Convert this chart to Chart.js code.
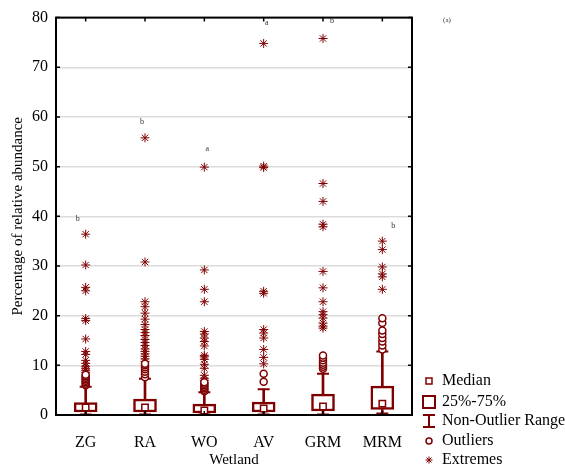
<!DOCTYPE html>
<html>
<head>
<meta charset="utf-8">
<script src="https://cdn.jsdelivr.net/npm/chart.js@4.4.1/dist/chart.umd.min.js"></script>
<style>
html, body { margin: 0; padding: 0; background: #fff; }
</style>
</head>
<body>
<canvas id="chart_box" width="565" height="473"></canvas>
<script>
// ---- data ----
var wetlands = ['ZG', 'RA', 'WO', 'AV', 'GRM', 'MRM'];
var q1 = [0.6, 0.6, 0.4, 0.6, 0.8, 1.1];
var q3 = [2.5, 3.2, 2.2, 2.6, 4.2, 5.8];
var medians = [1.5, 1.5, 0.9, 1.3, 1.7, 2.3];
var whiskerMin = [0.1, 0.1, 0.1, 0.1, 0.1, 0.3];
var whiskerMax = [5.7, 7.3, 4.6, 5.2, 8.3, 12.8];

var outliers = [
    [6.0, 6.3, 6.6, 6.9, 7.2, 7.5, 7.8, 8.1],
    [7.6, 8.2, 8.7, 9.2, 9.6, 10.0, 10.3],
    [4.8, 5.1, 5.4, 5.7, 6.0, 6.3, 6.6],
    [6.7, 8.3],
    [9.3, 9.7, 10.1, 10.5, 11.0, 11.5, 12.0],
    [13.2, 14.0, 14.8, 15.5, 16.3, 17.0, 18.5, 19.5]
];
var extremes = [
    [8.6, 9.0, 9.4, 9.8, 10.4, 11.0, 12.2, 12.8, 15.3, 19.0, 19.4, 25.0, 25.7, 30.2, 36.4],
    [10.8, 11.3, 11.8, 12.3, 12.8, 13.3, 14.0, 14.6, 15.2, 16.0, 16.6, 17.2, 18.2, 19.3, 20.5, 21.8, 22.8, 30.8, 55.8],
    [7.0, 7.4, 8.0, 9.4, 10.2, 11.2, 11.7, 12.0, 13.9, 14.8, 15.5, 16.3, 16.8, 22.8, 25.3, 29.2, 49.9],
    [10.3, 11.6, 13.2, 15.5, 16.5, 17.2, 24.5, 24.9, 49.8, 50.1, 74.8],
    [17.5, 17.9, 18.5, 19.5, 20.2, 20.8, 22.8, 25.6, 28.9, 37.9, 38.4, 43.0, 46.6, 75.8],
    [25.3, 27.8, 28.4, 29.8, 33.3, 35.0]
];
var letters = ['b', 'b', 'a', 'a', 'b', 'b'];
var letterY = [39.5, 59.0, 53.5, 79.0, 79.3, 38.0];
var yTicks = [0, 10, 20, 30, 40, 50, 60, 70, 80];

// ---- styling ----
var red = '#7f0000';
var serif = '"Liberation Serif", "Times New Roman", serif';
var letterDx = [-8, -3, 3, 3, 9, 11];

function points(lists) {
    var out = [];
    lists.forEach(function (vals, i) {
        vals.forEach(function (v) { out.push({ x: wetlands[i], y: v }); });
    });
    return out;
}

var caps = [];
wetlands.forEach(function (c, i) {
    caps.push({ x: c, y: whiskerMax[i] });
    caps.push({ x: c, y: whiskerMin[i] });
});

var boxFrame = {
    id: 'boxFrame',
    afterDatasetsDraw: function (chart) {
        var ctx = chart.ctx, a = chart.chartArea;
        var xs = chart.scales.x, ys = chart.scales.y;
        ctx.save();
        // letters above each group
        ctx.fillStyle = '#333';
        ctx.font = '8px ' + serif;
        ctx.textAlign = 'center';
        ctx.textBaseline = 'middle';
        letters.forEach(function (l, i) {
            ctx.fillText(l, xs.getPixelForValue(i) + letterDx[i], ys.getPixelForValue(letterY[i]));
        });
        // frame
        ctx.strokeStyle = '#000';
        ctx.lineWidth = 2;
        ctx.strokeRect(a.left, a.top, a.right - a.left, a.bottom - a.top);
        ctx.lineWidth = 1.5;
        ctx.beginPath();
        yTicks.forEach(function (t) {
            var py = ys.getPixelForValue(t);
            ctx.moveTo(a.left, py); ctx.lineTo(a.left + 4, py);
            ctx.moveTo(a.right, py); ctx.lineTo(a.right - 4, py);
        });
        wetlands.forEach(function (c, i) {
            var px = xs.getPixelForValue(i);
            ctx.moveTo(px, a.top); ctx.lineTo(px, a.top + 4);
            ctx.moveTo(px, a.bottom); ctx.lineTo(px, a.bottom - 4);
        });
        ctx.stroke();
        ctx.restore();
    },
    afterDraw: function (chart) {
        var ctx = chart.ctx;
        ctx.save();
        ctx.fillStyle = '#333';
        ctx.font = '7px ' + serif;
        ctx.textAlign = 'center';
        ctx.textBaseline = 'middle';
        ctx.fillText('(a)', 447, 20);

        // legend
        var mx = 429, tx = 442;
        var rows = [381, 402, 421, 441, 460];
        var names = ['Median', '25%-75%', 'Non-Outlier Range', 'Outliers', 'Extremes'];
        ctx.strokeStyle = red;
        ctx.fillStyle = '#fff';
        ctx.lineWidth = 1.5;
        ctx.strokeRect(mx - 3, rows[0] - 3, 6, 6);
        ctx.lineWidth = 2;
        ctx.strokeRect(mx - 6, rows[1] - 6, 12, 12);
        ctx.beginPath();
        ctx.moveTo(mx - 6, rows[2] - 6); ctx.lineTo(mx + 6, rows[2] - 6);
        ctx.moveTo(mx, rows[2] - 6); ctx.lineTo(mx, rows[2] + 6);
        ctx.moveTo(mx - 6, rows[2] + 6); ctx.lineTo(mx + 6, rows[2] + 6);
        ctx.stroke();
        ctx.lineWidth = 1.5;
        ctx.beginPath();
        ctx.arc(mx, rows[3], 3, 0, Math.PI * 2);
        ctx.stroke();
        ctx.lineWidth = 1;
        ctx.beginPath();
        var r = 3.5;
        ctx.moveTo(mx - r, rows[4]); ctx.lineTo(mx + r, rows[4]);
        ctx.moveTo(mx, rows[4] - r); ctx.lineTo(mx, rows[4] + r);
        ctx.moveTo(mx - r * 0.7, rows[4] - r * 0.7); ctx.lineTo(mx + r * 0.7, rows[4] + r * 0.7);
        ctx.moveTo(mx - r * 0.7, rows[4] + r * 0.7); ctx.lineTo(mx + r * 0.7, rows[4] - r * 0.7);
        ctx.stroke();

        ctx.fillStyle = '#000';
        ctx.font = '16px ' + serif;
        ctx.textAlign = 'left';
        names.forEach(function (n, i) { ctx.fillText(n, tx, rows[i]); });
        ctx.restore();
    }
};

var ctx = document.getElementById('chart_box').getContext('2d');
var boxChart = new Chart(ctx, {
    type: 'bar',
    data: {
        labels: wetlands,
        datasets: [
            {
                type: 'line', label: 'Median', order: 0,
                data: wetlands.map(function (c, i) { return { x: c, y: medians[i] }; }),
                showLine: false, pointStyle: 'rect', pointRadius: 4.5,
                pointBackgroundColor: '#fff', pointBorderColor: red, pointBorderWidth: 1.5
            },
            {
                type: 'line', label: 'Outliers', order: 1,
                data: points(outliers),
                showLine: false, pointStyle: 'circle', pointRadius: 3.5,
                pointBackgroundColor: '#fff', pointBorderColor: red, pointBorderWidth: 1.5
            },
            {
                type: 'line', label: 'Extremes', order: 2,
                data: points(extremes),
                showLine: false, pointStyle: 'star', pointRadius: 4.5,
                pointBorderColor: red, pointBorderWidth: 1
            },
            {
                type: 'line', label: 'Caps', order: 3,
                data: caps,
                showLine: false, pointStyle: 'line', pointRadius: 6,
                pointBorderColor: red, pointBorderWidth: 2
            },
            {
                label: '25%-75%', order: 4, grouped: false,
                data: wetlands.map(function (c, i) { return [q1[i], q3[i]]; }),
                backgroundColor: '#fff', borderColor: red, borderWidth: 2.5,
                borderSkipped: false, barThickness: 23
            },
            {
                label: 'Upper whisker', order: 5, grouped: false,
                data: wetlands.map(function (c, i) { return [q3[i], whiskerMax[i]]; }),
                backgroundColor: red, borderWidth: 0, barThickness: 2
            },
            {
                label: 'Lower whisker', order: 6, grouped: false,
                data: wetlands.map(function (c, i) { return [whiskerMin[i], q1[i]]; }),
                backgroundColor: red, borderWidth: 0, barThickness: 2
            }
        ]
    },
    options: {
        responsive: false,
        animation: false,
        layout: { padding: { top: 12, right: 153, left: 0, bottom: 0 } },
        plugins: {
            legend: { display: false },
            tooltip: { enabled: false }
        },
        scales: {
            x: {
                grid: { display: false },
                border: { display: false },
                ticks: { color: '#000', font: { family: serif, size: 16 }, padding: 10 },
                title: { display: true, text: 'Wetland', color: '#000', font: { family: serif, size: 15 }, padding: { top: 0, bottom: 4 } },
                afterFit: function (s) { s.height = 58; }
            },
            y: {
                min: 0, max: 80,
                grid: { color: '#dcdcdc', lineWidth: 1.5, drawTicks: false },
                border: { display: false },
                ticks: { stepSize: 10, color: '#000', font: { family: serif, size: 16 }, padding: 8 },
                title: { display: true, text: 'Percentage of relative abundance', color: '#000', font: { family: serif, size: 15 }, padding: { top: 9, bottom: 0 } },
                afterFit: function (s) { s.width = 56; }
            }
        }
    },
    plugins: [boxFrame]
});
</script>
</body>
</html>
